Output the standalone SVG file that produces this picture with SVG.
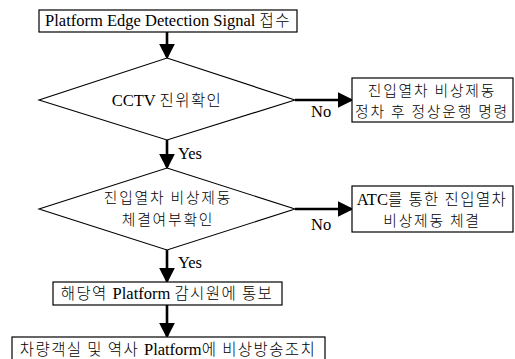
<svg xmlns="http://www.w3.org/2000/svg" width="515" height="359" viewBox="0 0 515 359">
  <style>
    .box { fill: #ffffff; stroke: #000000; stroke-width: 1.2; }
    .dia { fill: #ffffff; stroke: #000000; stroke-width: 1.1; }
    .lbl { font-family: "Liberation Serif", "Noto Sans CJK KR", serif; font-size: 16.5px; fill: #000000; }
    .ko { font-family: "Noto Sans CJK KR", sans-serif; font-size: 15.5px; font-weight: 300; letter-spacing: 1.4px; }
    .ko2 { font-size: 14.8px; letter-spacing: 1.8px; }
    .mid { text-anchor: middle; }
    .flow { fill: none; stroke: #000000; stroke-width: 2.6; }
  </style>
  <defs>
    <marker id="arrow" markerWidth="6" markerHeight="6" refX="5" refY="3" orient="auto" markerUnits="strokeWidth">
      <path d="M0,0 L6,3 L0,6 z" fill="#000000"/>
    </marker>
  </defs>
  <rect width="515" height="359" fill="#ffffff"/>

  <!-- connectors -->
  <g id="connectors">
    <path class="flow" d="M167,32 L167,57" marker-end="url(#arrow)"/>
    <path class="flow" d="M295,100 L351,100" marker-end="url(#arrow)"/>
    <path class="flow" d="M167,140 L167,167" marker-end="url(#arrow)"/>
    <path class="flow" d="M295,209 L351,209" marker-end="url(#arrow)"/>
    <path class="flow" d="M167,250 L167,281" marker-end="url(#arrow)"/>
    <path class="flow" d="M167,305 L167,336" marker-end="url(#arrow)"/>
    <text class="lbl" x="311" y="117">No</text>
    <text class="lbl" x="178" y="159">Yes</text>
    <text class="lbl" x="311" y="230">No</text>
    <text class="lbl" x="178" y="268">Yes</text>
  </g>

  <g id="signal">
    <rect class="box" x="39" y="10" width="258" height="22"/>
    <text class="lbl mid" x="168" y="26">Platform Edge Detection Signal <tspan class="ko">접수</tspan></text>
  </g>

  <g id="cctv-check">
    <polygon class="dia" points="167,58 295,100 167,140 39,100"/>
    <text class="lbl mid" x="167" y="106">CCTV <tspan class="ko">진위확인</tspan></text>
  </g>

  <g id="stop-order">
    <rect class="box" x="352" y="78" width="161" height="44"/>
    <text class="lbl mid ko ko2" x="432" y="96">진입열차 비상제동</text>
    <text class="lbl mid ko ko2" x="432" y="117">정차 후 정상운행 명령</text>
  </g>

  <g id="brake-check">
    <polygon class="dia" points="167,168 295,209 167,250 39,209"/>
    <text class="lbl mid ko ko2" x="168" y="203">진입열차 비상제동</text>
    <text class="lbl mid ko ko2" x="168" y="225">체결여부확인</text>
  </g>

  <g id="atc-brake">
    <rect class="box" x="352" y="186" width="161" height="46"/>
    <text class="lbl mid" x="432" y="205">ATC<tspan class="ko">를 통한 진입열차</tspan></text>
    <text class="lbl mid ko ko2" x="432" y="226">비상제동 체결</text>
  </g>

  <g id="notify">
    <rect class="box" x="53" y="282" width="229" height="23"/>
    <text class="lbl mid" x="167" y="299"><tspan class="ko">해당역 </tspan>Platform <tspan class="ko">감시원에 통보</tspan></text>
  </g>

  <g id="broadcast">
    <rect class="box" x="12" y="337" width="313" height="26"/>
    <text class="lbl mid" x="168" y="355"><tspan class="ko">차량객실 및 역사 </tspan>Platform<tspan class="ko">에 비상방송조치</tspan></text>
  </g>
</svg>
